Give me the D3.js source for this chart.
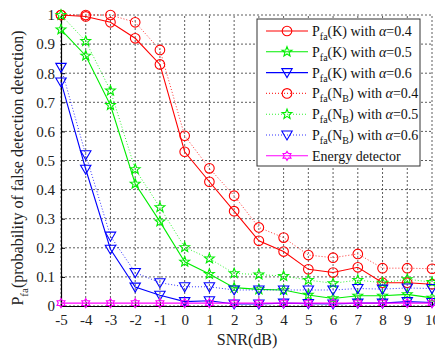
<!DOCTYPE html>
<html>
<head>
<meta charset="utf-8">
<script src="https://cdnjs.cloudflare.com/ajax/libs/d3/7.8.5/d3.min.js"></script>
<style>
  body { margin: 0; background: #fff; }
  text { font-family: "Liberation Serif", "Times New Roman", serif; }
</style>
</head>
<body>
<script>
// SNR values and the seven curves
const snr = [-5, -4, -3, -2, -1, 0, 1, 2, 3, 4, 5, 6, 7, 8, 9, 10];
const kA04 = [1.0, 0.995, 0.975, 0.92, 0.83, 0.53, 0.427, 0.326, 0.224, 0.187, 0.126, 0.115, 0.133, 0.08, 0.08, 0.075];
const kA05 = [0.95, 0.86, 0.69, 0.42, 0.29, 0.152, 0.11, 0.063, 0.057, 0.055, 0.038, 0.026, 0.035, 0.035, 0.04, 0.028];
const kA06 = [0.77, 0.47, 0.195, 0.065, 0.037, 0.015, 0.018, 0.007, 0.007, 0.01, 0.008, 0.007, 0.01, 0.01, 0.015, 0.012];
const nbA04 = [1.0, 1.0, 1.0, 0.975, 0.88, 0.585, 0.473, 0.379, 0.27, 0.235, 0.175, 0.166, 0.179, 0.13, 0.13, 0.128];
const nbA05 = [1.0, 0.91, 0.74, 0.47, 0.339, 0.202, 0.163, 0.112, 0.108, 0.103, 0.089, 0.078, 0.089, 0.08, 0.092, 0.082];
const nbA06 = [0.82, 0.52, 0.24, 0.115, 0.08, 0.066, 0.066, 0.055, 0.055, 0.055, 0.055, 0.055, 0.06, 0.058, 0.062, 0.06];
const energy = [0.01, 0.01, 0.01, 0.01, 0.01, 0.01, 0.01, 0.01, 0.01, 0.01, 0.01, 0.01, 0.01, 0.01, 0.01, 0.01];
const yTicks = [0, 0.1, 0.2, 0.3, 0.4, 0.5, 0.6, 0.7, 0.8, 0.9, 1];

const series = [
  { vals: kA04, color: "#ff0000", dash: null, mark: "circle", name: "(K) with ", a: "=0.4" },
  { vals: kA05, color: "#00ee00", dash: null, mark: "star", name: "(K) with ", a: "=0.5" },
  { vals: kA06, color: "#0000ff", dash: null, mark: "tri", name: "(K) with ", a: "=0.6" },
  { vals: nbA04, color: "#ff0000", dash: "1,2", mark: "circle", name: "(N", sub2: "B", a: "=0.4" },
  { vals: nbA05, color: "#00ee00", dash: "1,2", mark: "star", name: "(N", sub2: "B", a: "=0.5" },
  { vals: nbA06, color: "#0000ff", dash: "1,2", mark: "tri", name: "(N", sub2: "B", a: "=0.6" },
  { vals: energy, color: "#ff00ff", dash: null, mark: "hex", label: "Energy detector" }
];

const W = 435, H = 350;
const svg = d3.select("body").append("svg").attr("width", W).attr("height", H);

const x = d3.scaleLinear().domain([-5, 10]).range([61, 432]);
const y = d3.scaleLinear().domain([0, 1]).range([306, 15]);

// grid
const grid = svg.append("g").attr("stroke", "#333").attr("stroke-width", 0.8).attr("stroke-dasharray", "2,2");
grid.selectAll(".gx").data(snr).enter().append("line")
  .attr("x1", d => x(d)).attr("x2", d => x(d)).attr("y1", y(0)).attr("y2", y(1));
grid.selectAll(".gy").data(yTicks).enter().append("line")
  .attr("x1", x(-5)).attr("x2", x(10)).attr("y1", d => y(d)).attr("y2", d => y(d));

// axes
const xAxis = svg.append("g").attr("transform", "translate(0," + y(0) + ")")
  .call(d3.axisBottom(x).tickValues(snr).tickSize(-4).tickPadding(8).tickFormat(d => String(d)));
const yAxis = svg.append("g").attr("transform", "translate(" + x(-5) + ",0)")
  .call(d3.axisLeft(y).tickValues(yTicks).tickSize(-4).tickPadding(6).tickFormat(d => d === 0 || d === 1 ? String(d) : d.toFixed(1)));
[xAxis, yAxis].forEach(a => {
  a.select(".domain").attr("stroke", "#000").attr("stroke-width", 1.2);
  a.selectAll("text").attr("font-size", 15).attr("fill", "#222").style("font-family", "Liberation Serif");
});

// markers
function markerPath(type) {
  const p = d3.path();
  if (type === "circle") {
    p.arc(0, 0, 4.8, 0, 2 * Math.PI);
  } else if (type === "tri") {
    p.moveTo(-5.2, -4); p.lineTo(5.2, -4); p.lineTo(0, 5); p.closePath();
  } else if (type === "star") {
    for (let i = 0; i < 10; i++) {
      const r = i % 2 === 0 ? 5.2 : 2.2;
      const ang = -Math.PI / 2 + i * Math.PI / 5;
      if (i === 0) p.moveTo(r * Math.cos(ang), r * Math.sin(ang));
      else p.lineTo(r * Math.cos(ang), r * Math.sin(ang));
    }
    p.closePath();
  } else if (type === "hex") {
    for (let i = 0; i < 12; i++) {
      const r = i % 2 === 0 ? 4.6 : 2.7;
      const ang = -Math.PI / 2 + i * Math.PI / 6;
      if (i === 0) p.moveTo(r * Math.cos(ang), r * Math.sin(ang));
      else p.lineTo(r * Math.cos(ang), r * Math.sin(ang));
    }
    p.closePath();
  }
  return p.toString();
}

const line = d3.line().x((d, i) => x(snr[i])).y(d => y(d));

const plot = svg.append("g");
series.forEach(s => {
  plot.append("path").attr("d", line(s.vals)).attr("fill", "none")
    .attr("stroke", s.color).attr("stroke-width", s.dash ? 1 : 1.1)
    .attr("stroke-dasharray", s.dash).attr("opacity", s.dash ? 0.8 : 1);
  plot.selectAll(null).data(s.vals).enter().append("path")
    .attr("d", markerPath(s.mark))
    .attr("transform", (d, i) => "translate(" + x(snr[i]) + "," + y(d) + ")")
    .attr("fill", "none").attr("stroke", s.color).attr("stroke-width", 1.1);
});

// legend
const lg = svg.append("g");
lg.append("rect").attr("x", 257).attr("y", 19).attr("width", 163).attr("height", 147)
  .attr("fill", "#fff").attr("stroke", "#333").attr("stroke-width", 1);
series.forEach((s, i) => {
  const ly = 31 + i * 20.8;
  lg.append("line").attr("x1", 266).attr("x2", 308).attr("y1", ly).attr("y2", ly)
    .attr("stroke", s.color).attr("stroke-width", 1.1).attr("stroke-dasharray", s.dash)
    .attr("opacity", s.dash ? 0.8 : 1);
  lg.append("path").attr("d", markerPath(s.mark)).attr("transform", "translate(287," + ly + ")")
    .attr("fill", "none").attr("stroke", s.color).attr("stroke-width", 1.1);
  const t = lg.append("text").attr("x", 312).attr("y", ly + 5).attr("font-size", 14).attr("fill", "#111");
  if (s.label) { t.text(s.label); return; }
  t.append("tspan").text("P");
  t.append("tspan").attr("font-size", 10).attr("dy", 4).text("fa");
  t.append("tspan").attr("dy", -4).text(s.name);
  if (s.sub2) {
    t.append("tspan").attr("font-size", 10).attr("dy", 4).text(s.sub2);
    t.append("tspan").attr("dy", -4).text(") with ");
  }
  t.append("tspan").attr("font-style", "italic").text("\u03b1");
  t.append("tspan").text(s.a);
});

// axis labels
svg.append("text").attr("x", 247).attr("y", 345).attr("text-anchor", "middle")
  .attr("font-size", 16).attr("fill", "#222").text("SNR(dB)");
const yl = svg.append("text").attr("transform", "translate(23,168) rotate(-90)")
  .attr("text-anchor", "middle").attr("font-size", 16).attr("fill", "#222");
yl.append("tspan").text("P");
yl.append("tspan").attr("font-size", 11).attr("dy", 5).text("fa");
yl.append("tspan").attr("dy", -5).text("(probability of false detection detection)");
</script>
</body>
</html>
